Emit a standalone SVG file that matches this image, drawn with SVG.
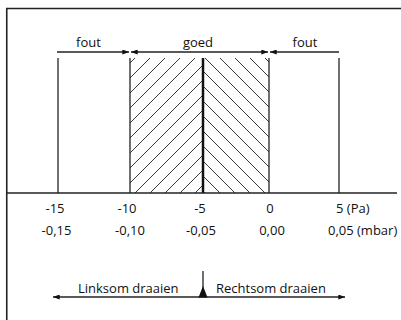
<svg xmlns="http://www.w3.org/2000/svg" width="401" height="320" viewBox="0 0 401 320">
<style>
text{font-family:"Open Sans","Lato","Liberation Sans",sans-serif;font-size:13px;fill:#111}
.ln{stroke:#222;stroke-width:1.3;fill:none}
.ht{stroke:#222;stroke-width:0.9;fill:none}
</style>
<defs>
<marker id="ah" viewBox="0 0 8 6" refX="8" refY="3" markerWidth="7" markerHeight="5" markerUnits="userSpaceOnUse" orient="auto-start-reverse">
<path d="M0,0 L8,3 L0,6 Z" fill="#111"/>
</marker>
<clipPath id="cl"><rect x="130" y="58" width="73" height="135"/></clipPath>
<clipPath id="cr"><rect x="203" y="58" width="66" height="135"/></clipPath>
</defs>
<rect width="401" height="320" fill="#fff"/>
<g id="frame">
<path d="M6.75,320 V8.5 H401" fill="none" stroke="#222" stroke-width="1.6"/>
</g>
<g id="hatch">
<path class="ht" clip-path="url(#cl)" d="M-7,200 L193,0 M8,200 L208,0 M23,200 L223,0 M38,200 L238,0 M53,200 L253,0 M68,200 L268,0 M83,200 L283,0 M98,200 L298,0 M113,200 L313,0 M128,200 L328,0 M143,200 L343,0 M158,200 L358,0 M173,200 L373,0 M188,200 L388,0"/>
<path class="ht" clip-path="url(#cr)" d="M0,-207 L400,193 M0,-192 L400,208 M0,-177 L400,223 M0,-162 L400,238 M0,-147 L400,253 M0,-132 L400,268 M0,-117 L400,283 M0,-102 L400,298 M0,-87 L400,313 M0,-72 L400,328 M0,-57 L400,343 M0,-42 L400,358 M0,-27 L400,373 M0,-12 L400,388"/>
</g>
<g id="connectors">
<line class="ln" x1="58" y1="58" x2="58" y2="193"/>
<line class="ln" x1="130" y1="58" x2="130" y2="193"/>
<line class="ln" x1="269" y1="58" x2="269" y2="193"/>
<line class="ln" x1="339" y1="58" x2="339" y2="193"/>
<line x1="203" y1="58" x2="203" y2="193" stroke="#111" stroke-width="2.5"/>
<line class="ln" x1="6" y1="193" x2="397" y2="193" stroke-width="1.5"/>
<line class="ln" x1="57" y1="52" x2="129" y2="52" marker-end="url(#ah)"/>
<line class="ln" x1="131" y1="52" x2="268" y2="52" marker-start="url(#ah)" marker-end="url(#ah)"/>
<line class="ln" x1="270" y1="52" x2="339" y2="52" marker-start="url(#ah)"/>
<line class="ln" x1="53" y1="297" x2="345" y2="297" marker-start="url(#ah)" marker-end="url(#ah)"/>
<line class="ln" x1="203" y1="271" x2="203" y2="290"/>
<path d="M203,286 L207.5,297.5 L198.5,297.5 Z" fill="#111"/>
</g>
<g id="labels">
<text x="88.5" y="47" text-anchor="middle">fout</text>
<text x="198" y="47" text-anchor="middle">goed</text>
<text x="305" y="47" text-anchor="middle">fout</text>
<text x="55" y="213" text-anchor="middle">-15</text>
<text x="127" y="213" text-anchor="middle">-10</text>
<text x="200" y="213" text-anchor="middle">-5</text>
<text x="270" y="213" text-anchor="middle">0</text>
<text x="336" y="213">5 (Pa)</text>
<text x="56.5" y="235" text-anchor="middle">-0,15</text>
<text x="130" y="235" text-anchor="middle">-0,10</text>
<text x="201" y="235" text-anchor="middle">-0,05</text>
<text x="272" y="235" text-anchor="middle">0,00</text>
<text x="328" y="235">0,05 (mbar)</text>
<text x="78" y="293">Linksom draaien</text>
<text x="216" y="293">Rechtsom draaien</text>
</g>
</svg>
